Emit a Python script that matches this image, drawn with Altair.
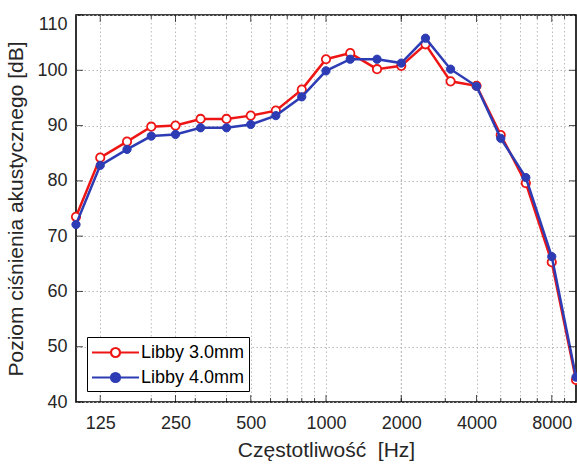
import altair as alt
import pandas as pd

freqs = [100, 125, 160, 200, 250, 315, 400, 500, 630, 800, 1000, 1250, 1600,
         2000, 2500, 3150, 4000, 5000, 6300, 8000, 10000]
libby_30 = [73.5, 84.2, 87.1, 89.8, 90.0, 91.2, 91.2, 91.8, 92.7, 96.5, 102.0, 103.1,
            100.2, 100.8, 104.7, 98.0, 97.2, 88.3, 79.6, 65.3, 44.0]
libby_40 = [72.1, 82.8, 85.7, 88.1, 88.4, 89.6, 89.6, 90.2, 91.8, 95.2, 99.9, 102.0,
            102.0, 101.3, 105.8, 100.2, 97.1, 87.7, 80.6, 66.3, 44.5]
series_names = ["Libby 3.0mm", "Libby 4.0mm"]
series_colors = ["#ee1515", "#2d3cb4"]
series_fills = ["#ffffff", "#2d3cb4"]
x_ticks = [125, 250, 500, 1000, 2000, 4000, 8000]
minor_vals = [200, 300, 400, 600, 700, 800, 900, 2000, 3000, 5000, 6000, 7000, 9000]
y_ticks = [40, 50, 60, 70, 80, 90, 100, 110]

W, H = 500, 387
FONT = "Liberation Sans"
TXT = "#262626"
GRID = "#b8b8b8"

df = pd.concat([
    pd.DataFrame({"f": freqs, "v": libby_30, "s": series_names[0]}),
    pd.DataFrame({"f": freqs, "v": libby_40, "s": series_names[1]}),
])
major_df = pd.DataFrame({"f": x_ticks})
minor_df = pd.DataFrame({"f": minor_vals})
ytick_df = pd.DataFrame({"y": y_ticks})

xscale = alt.Scale(type="log", domain=[100, 10000], nice=False)
yscale = alt.Scale(domain=[40, 110], nice=False, zero=False)

# legend symbol: line with a circle marker (unit = 10 px at symbolSize 400)
legend_path = ("M-2.35,0 L-0.45,0 M0.45,0 L2.35,0 "
               "M0.45,0 A0.45,0.45 0 1,1 -0.45,0 A0.45,0.45 0 1,1 0.45,0 Z")

legend = alt.Legend(
    title=None, orient="none", legendX=11, legendY=322,
    strokeColor="black", fillColor="white", padding=4,
    labelFont=FONT, labelFontSize=18, labelColor="black",
    symbolType=legend_path, symbolSize=400, symbolStrokeWidth=2.2,
    symbolOpacity=1, symbolOffset=13, labelOffset=14, rowPadding=4,
)
stroke_enc = alt.Stroke("s:N", scale=alt.Scale(domain=series_names, range=series_colors),
                        legend=legend)
fill_enc = alt.Fill("s:N", scale=alt.Scale(domain=series_names, range=series_fills),
                    legend=legend)

x_enc = alt.X(
    "f:Q", scale=xscale,
    axis=alt.Axis(values=x_ticks, format="d", ticks=False, tickSize=0, domain=False,
                  grid=True, gridDash=[1.5, 2.5], gridColor=GRID, gridWidth=1,
                  labelFont=FONT, labelFontSize=18, labelColor=TXT, labelPadding=12,
                  title="Częstotliwość\u00a0 [Hz]", titleFont=FONT, titleFontSize=21,
                  titleFontWeight="normal", titleColor=TXT, titlePadding=7),
)
y_enc = alt.Y(
    "v:Q", scale=yscale,
    axis=alt.Axis(values=y_ticks, ticks=False, tickSize=0, domain=False,
                  grid=True, gridDash=[1.5, 2.5], gridColor=GRID, gridWidth=1,
                  labelFont=FONT, labelFontSize=18, labelColor=TXT, labelPadding=9,
                  labelBaseline={"condition": {"test": "datum.value == 110", "value": "top"},
                                 "value": "middle"},
                  title="Poziom ciśnienia akustycznego [dB]", titleFont=FONT,
                  titleFontSize=21, titleFontWeight="normal", titleColor=TXT,
                  titlePadding=10),
)
xs = alt.X("f:Q", scale=xscale)
ys = alt.Y("v:Q", scale=yscale)

minor_grid = alt.Chart(minor_df).mark_rule(
    strokeDash=[1.5, 2.5], color=GRID, strokeWidth=1
).encode(x=x_enc)

base = alt.Chart(df)
red = base.transform_filter(alt.datum.s == series_names[0])
blue = base.transform_filter(alt.datum.s == series_names[1])

lines_red = red.mark_line(strokeWidth=2.5).encode(x=xs, y=y_enc, stroke=stroke_enc)
pts_red = red.mark_point(filled=True, size=70, strokeWidth=1.8, opacity=1).encode(
    x=xs, y=ys, stroke=stroke_enc, fill=fill_enc)
lines_blue = blue.mark_line(strokeWidth=2.5).encode(x=xs, y=ys, stroke=stroke_enc)
pts_blue = blue.mark_point(filled=True, size=68, strokeWidth=1, opacity=1).encode(
    x=xs, y=ys, stroke=stroke_enc, fill=fill_enc)

tick_style = dict(color="black", thickness=1)
xt_bot = alt.Chart(major_df).mark_tick(orient="vertical", size=7, **tick_style).encode(
    x=alt.X("f:Q", scale=xscale), y=alt.value(H - 3.5))
xt_top = alt.Chart(major_df).mark_tick(orient="vertical", size=7, **tick_style).encode(
    x=alt.X("f:Q", scale=xscale), y=alt.value(3.5))
xm_bot = alt.Chart(minor_df).mark_tick(orient="vertical", size=4, **tick_style).encode(
    x=alt.X("f:Q", scale=xscale), y=alt.value(H - 2))
xm_top = alt.Chart(minor_df).mark_tick(orient="vertical", size=4, **tick_style).encode(
    x=alt.X("f:Q", scale=xscale), y=alt.value(2))
yt_left = alt.Chart(ytick_df).mark_tick(orient="horizontal", size=7, **tick_style).encode(
    y=alt.Y("y:Q", scale=yscale), x=alt.value(3.5))
yt_right = alt.Chart(ytick_df).mark_tick(orient="horizontal", size=7, **tick_style).encode(
    y=alt.Y("y:Q", scale=yscale), x=alt.value(W - 3.5))

chart = alt.layer(
    minor_grid, lines_red, pts_red, lines_blue, pts_blue,
    xt_bot, xt_top, xm_bot, xm_top, yt_left, yt_right,
).properties(
    width=W, height=H,
    padding={"left": 76, "top": 15, "right": 1, "bottom": 64},
    autosize=alt.AutoSizeParams(type="none"),
    background="white",
).configure_view(
    stroke="black", strokeWidth=1.6,
)

chart.save("out.html", embed_options={"renderer": "svg", "actions": False})
